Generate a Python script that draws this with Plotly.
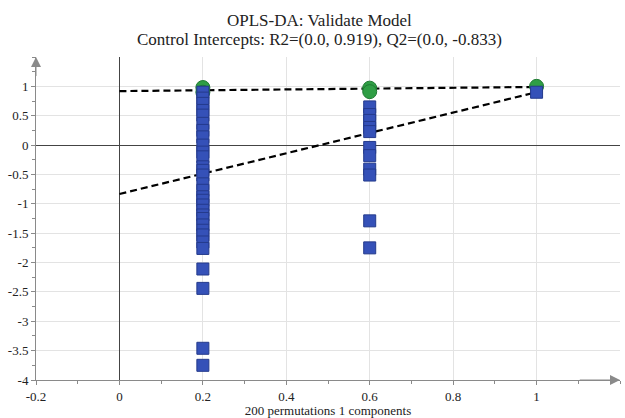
import plotly.graph_objects as go

# ---- data ----
title_lines = ["OPLS-DA: Validate Model", "Control Intercepts: R2=(0.0, 0.919), Q2=(0.0, -0.833)"]
x_label = "200 permutations 1 components"

r2_x = [0.2, 0.2, 0.6, 0.6, 1.0]
r2_y = [0.98, 0.90, 0.97, 0.91, 1.0]

q2_x_02 = 0.2
q2_y_02 = [0.90, 0.80, 0.71, 0.59, 0.51, 0.37, 0.25, 0.14, 0.0, -0.12, -0.20, -0.37,
           -0.43, -0.51, -0.66, -0.77, -0.88, -0.94, -1.02, -1.11, -1.19, -1.25, -1.36,
           -1.45, -1.53, -1.65, -1.76, -2.11, -2.44, -3.46, -3.75]
q2_x_06 = 0.6
q2_y_06 = [0.65, 0.52, 0.42, 0.30, 0.23, -0.04, -0.18, -0.41, -0.51, -1.29, -1.75]
q2_x_10 = 1.0
q2_y_10 = [0.90]

r2_line_x = [0.0, 1.0]
r2_line_y = [0.919, 0.99]
q2_line_x = [0.0, 1.0]
q2_line_y = [-0.833, 0.90]

x_ticks = [-0.2, 0, 0.2, 0.4, 0.6, 0.8, 1]
x_ticklabels = ["-0.2", "0", "0.2", "0.4", "0.6", "0.8", "1"]
y_ticks = [1, 0.5, 0, -0.5, -1, -1.5, -2, -2.5, -3, -3.5, -4]
y_ticklabels = ["1", "0.5", "0", "-0.5", "-1", "-1.5", "-2", "-2.5", "-3", "-3.5", "-4"]

# ---- figure ----
FONT = "Liberation Serif"
BLUE = "#3551b8"
BLUE_EDGE = "#243a8c"
GREEN = "#2f9e45"
GREEN_EDGE = "#1f7a32"
AXIS = "#8a8a8a"

fig = go.Figure()

fig.add_trace(go.Scatter(x=r2_line_x, y=r2_line_y, mode="lines",
                         line=dict(color="black", width=2.2, dash="7px,4px"), hoverinfo="skip"))
fig.add_trace(go.Scatter(x=q2_line_x, y=q2_line_y, mode="lines",
                         line=dict(color="black", width=2.2, dash="7px,4px"), hoverinfo="skip"))

fig.add_trace(go.Scatter(x=r2_x, y=r2_y, mode="markers",
                         marker=dict(symbol="circle", size=14, color=GREEN,
                                     line=dict(color=GREEN_EDGE, width=1))))

q2_x = [q2_x_02] * len(q2_y_02) + [q2_x_06] * len(q2_y_06) + [q2_x_10] * len(q2_y_10)
q2_y = q2_y_02 + q2_y_06 + q2_y_10
fig.add_trace(go.Scatter(x=q2_x, y=q2_y, mode="markers",
                         marker=dict(symbol="square", size=12, color=BLUE,
                                     line=dict(color=BLUE_EDGE, width=1))))

fig.update_layout(
    width=625, height=418,
    margin=dict(l=36, r=5, t=57, b=38),
    paper_bgcolor="white", plot_bgcolor="white",
    showlegend=False,
    font=dict(family=FONT, size=13, color="#222"),
    xaxis=dict(range=[-0.2, 1.2], tickvals=x_ticks, ticktext=x_ticklabels,
               showgrid=True, gridcolor="#e3e3e3", gridwidth=1,
               zeroline=True, zerolinecolor="#444", zerolinewidth=1,
               showline=True, linecolor=AXIS, linewidth=1,
               ticks="outside", ticklen=4, tickcolor=AXIS,
               minor=dict(dtick=0.1, tick0=0, ticks="outside", ticklen=3, tickcolor=AXIS, showgrid=False),
               title=dict(text=x_label, standoff=1, font=dict(family=FONT, size=13)),
               tickfont=dict(family=FONT, size=13)),
    yaxis=dict(range=[-4, 1.5], tickvals=y_ticks, ticktext=y_ticklabels,
               showgrid=True, gridcolor="#e3e3e3", gridwidth=1,
               zeroline=True, zerolinecolor="#444", zerolinewidth=1,
               showline=True, linecolor=AXIS, linewidth=1,
               ticks="outside", ticklen=4, tickcolor=AXIS,
               minor=dict(dtick=0.25, tick0=0, ticks="outside", ticklen=3, tickcolor=AXIS, showgrid=False),
               tickfont=dict(family=FONT, size=13)),
)

# title as two lines
for i, t in enumerate(title_lines):
    fig.add_annotation(text=t, xref="paper", yref="paper", x=0.485, y=1,
                       yshift=37 - i * 19, xanchor="center", yanchor="middle",
                       showarrow=False, font=dict(family=FONT, size=17, color="#222"))

# axis arrows
fig.add_annotation(x=-0.2, y=1.5, ax=-0.2, ay=1.15, xref="x", yref="y", axref="x", ayref="y",
                   showarrow=True, arrowhead=2, arrowsize=2, arrowwidth=1, arrowcolor=AXIS, text="")
fig.add_annotation(x=1.2, y=-4, ax=1.1, ay=-4, xref="x", yref="y", axref="x", ayref="y",
                   showarrow=True, arrowhead=2, arrowsize=2, arrowwidth=1, arrowcolor=AXIS, text="")

fig.write_html("out.html")
